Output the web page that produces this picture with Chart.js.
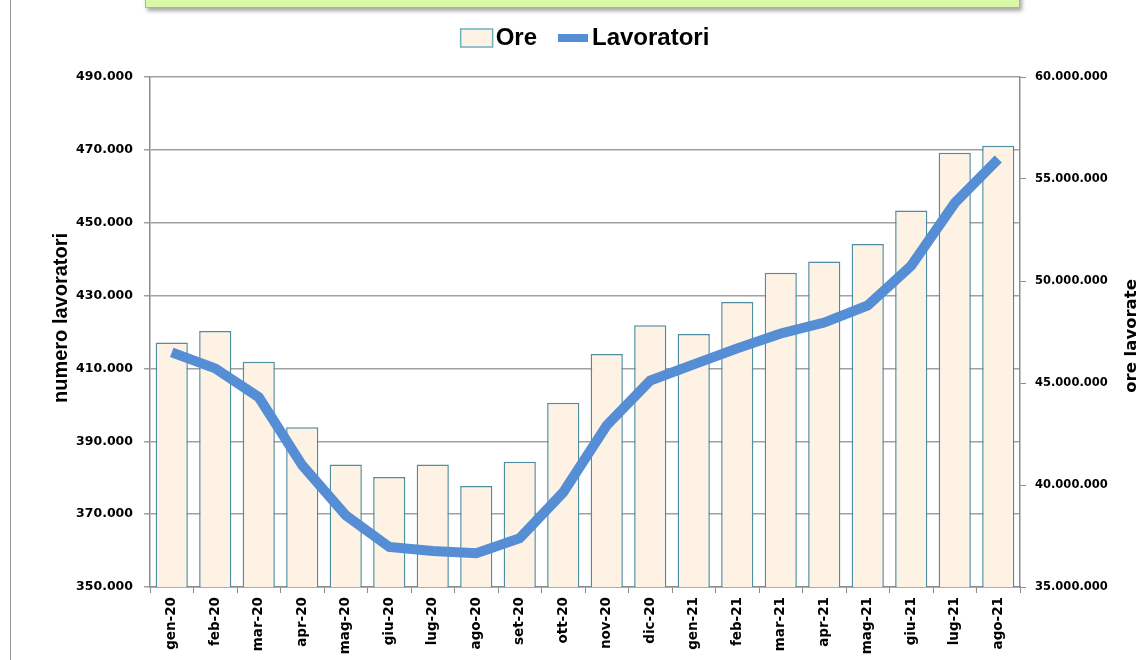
<!DOCTYPE html>
<html>
<head>
<meta charset="utf-8">
<script src="https://cdn.jsdelivr.net/npm/chart.js@4.4.1/dist/chart.umd.min.js"></script>
<style>
    html, body { margin: 0; padding: 0; background: #fff; }
    #wrap { position: relative; width: 1145px; height: 660px; overflow: hidden; }
    #pageLine { position: absolute; left: 10px; top: 0; height: 660px; border-left: 1px solid #9a9a9a; }
    #titleBox { position: absolute; left: 145px; top: -40px; width: 873px; height: 46px;
                background: #d9f8a8; border: 1px solid #a4bf72; box-shadow: 2px 3px 4px rgba(0,0,0,0.35); }
    canvas { position: absolute; left: 0; top: 0; }
</style>
</head>
<body>
<div id="wrap">
    <div id="pageLine"></div>
    <canvas id="chart" width="1145" height="660"></canvas>
    <div id="titleBox"></div>
</div>
<script>
// Months on the x axis
const months = ['gen-20', 'feb-20', 'mar-20', 'apr-20', 'mag-20', 'giu-20', 'lug-20', 'ago-20', 'set-20', 'ott-20',
    'nov-20', 'dic-20', 'gen-21', 'feb-21', 'mar-21', 'apr-21', 'mag-21', 'giu-21', 'lug-21', 'ago-21'];

// Hours worked (bars, right axis)
const ore = [46980000, 47550000, 46040000, 42830000, 41000000, 40390000, 41000000, 39950000, 41140000, 44030000,
    46420000, 47830000, 47400000, 48970000, 50410000, 50950000, 51810000, 53450000, 56290000, 56630000];

// Number of workers (line, left axis)
const lavoratori = [414400, 410000, 402100, 383400, 369700, 361000, 359900, 359300, 363400, 376000,
    394400, 406700, 411100, 415500, 419600, 422600, 427300, 438200, 455400, 467500];

// Axis ranges
const leftMin = 350000, leftMax = 490000, leftStep = 20000;
const rightMin = 35000000, rightMax = 60000000, rightStep = 5000000;

const BLUE = '#558ed5';
const CREAM = '#fdf2e3';
const BAR_EDGE = '#4f8da0';

// Italian style thousands separator
function fmt(v) {
    return String(v).replace(/\B(?=(\d{3})+(?!\d))/g, '.');
}

// Legend drawn above the plot: box for Ore, thick line for Lavoratori
const topLegend = {
    id: 'topLegend',
    afterDraw(chart) {
        const ctx = chart.ctx;
        const area = chart.chartArea;
        ctx.save();
        ctx.font = 'bold 24px "Liberation Sans"';
        ctx.textBaseline = 'middle';
        const w1 = ctx.measureText('Ore').width;
        const w2 = ctx.measureText('Lavoratori').width;
        const total = 32 + 3 + w1 + 21 + 30 + 4 + w2;
        let x = (area.left + area.right) / 2 - total / 2;
        const y = 38;

        ctx.fillStyle = CREAM;
        ctx.fillRect(x, y - 9, 32, 18);
        ctx.strokeStyle = '#6fb0c2';
        ctx.lineWidth = 1.5;
        ctx.strokeRect(x, y - 9, 32, 18);
        x += 35;
        ctx.fillStyle = '#000';
        ctx.fillText('Ore', x, y);
        x += w1 + 21;

        ctx.fillStyle = BLUE;
        ctx.fillRect(x, y - 4, 30, 8);
        x += 34;
        ctx.fillStyle = '#000';
        ctx.fillText('Lavoratori', x, y);
        ctx.restore();
    }
};

// Both axis titles read bottom to top
const axisTitles = {
    id: 'axisTitles',
    afterDraw(chart) {
        const ctx = chart.ctx;
        const area = chart.chartArea;
        const mid = (area.top + area.bottom) / 2;
        function vText(text, x, y, font) {
            ctx.save();
            ctx.translate(x, y);
            ctx.rotate(-Math.PI / 2);
            ctx.font = font;
            ctx.fillStyle = '#000';
            ctx.textAlign = 'center';
            ctx.textBaseline = 'middle';
            ctx.fillText(text, 0, 0);
            ctx.restore();
        }
        vText('numero lavoratori', 61, mid - 14, 'bold 20px "Liberation Sans"');
        vText('ore lavorate', 1132, mid + 4, 'bold 16.5px "DejaVu Sans"');
    }
};

const ctx = document.getElementById('chart').getContext('2d');
new Chart(ctx, {
    data: {
        labels: months,
        datasets: [
            {
                type: 'line',
                label: 'Lavoratori',
                data: lavoratori,
                yAxisID: 'y',
                borderColor: BLUE,
                borderWidth: 10,
                pointRadius: 0,
                tension: 0,
                order: 0
            },
            {
                type: 'bar',
                label: 'Ore',
                data: ore,
                yAxisID: 'y1',
                backgroundColor: CREAM,
                borderColor: BAR_EDGE,
                borderWidth: 1.5,
                borderSkipped: false,
                barPercentage: 0.74,
                categoryPercentage: 1,
                order: 1
            }
        ]
    },
    options: {
        responsive: false,
        animation: false,
        layout: { padding: { left: 12, top: 77, right: 0, bottom: 0 } },
        plugins: { legend: { display: false }, tooltip: { enabled: false } },
        scales: {
            x: {
                grid: { drawOnChartArea: false, color: '#8c8c8c', tickLength: 6 },
                border: { color: '#8c8c8c', width: 1.5 },
                ticks: {
                    minRotation: 90, maxRotation: 90, padding: 4, color: '#000',
                    font: { family: 'DejaVu Sans', weight: 'bold', size: 13.5 }
                },
                afterFit(scale) { scale.height = 73; }
            },
            y: {
                position: 'left',
                min: leftMin, max: leftMax,
                ticks: {
                    stepSize: leftStep, callback: fmt, color: '#000', padding: 11,
                    font: { family: 'DejaVu Sans', weight: 'bold', size: 12.5 }
                },
                grid: { color: '#a0a0a0', lineWidth: 1.5, tickLength: 6 },
                border: { color: '#8c8c8c', width: 1.5 },
                afterFit(scale) { scale.width = 138; }
            },
            y1: {
                position: 'right',
                min: rightMin, max: rightMax,
                ticks: {
                    stepSize: rightStep, callback: fmt, color: '#000', padding: 9,
                    font: { family: 'DejaVu Sans', weight: 'bold', size: 11.5 }
                },
                grid: { drawOnChartArea: false, color: '#8c8c8c', tickLength: 6 },
                border: { color: '#8c8c8c', width: 1.5 },
                afterFit(scale) { scale.width = 125; }
            }
        }
    },
    plugins: [topLegend, axisTitles]
});
</script>
</body>
</html>
